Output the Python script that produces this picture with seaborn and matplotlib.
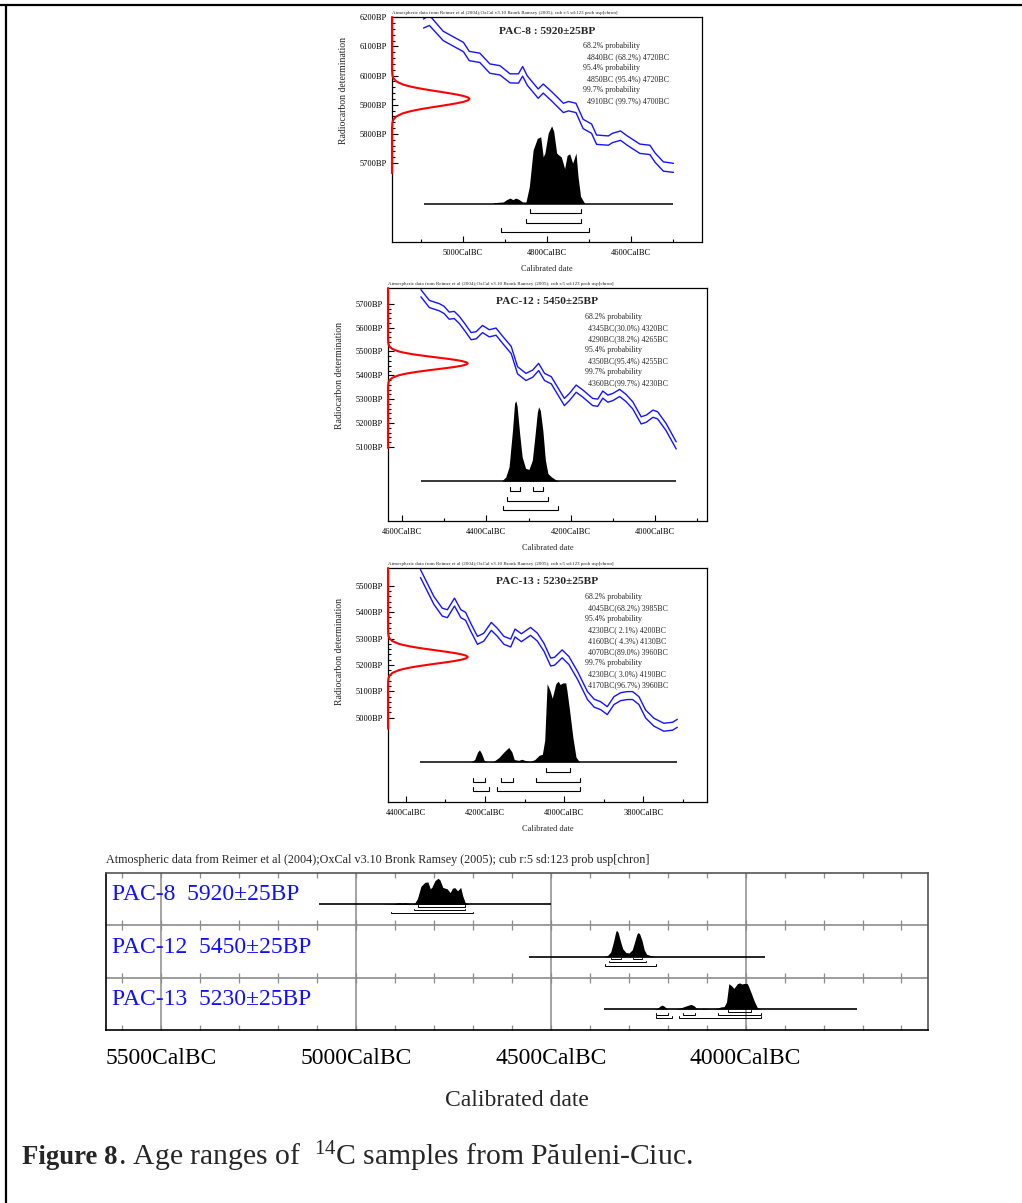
import numpy as np
import matplotlib
matplotlib.use("Agg")
import matplotlib.pyplot as plt
import matplotlib.transforms as mtransforms
from matplotlib.lines import Line2D
import seaborn as sns

W, H = 1022, 1203

# ── Data ───────────────────────────────────────────────────────────────────
SAMPLE_NAMES = ["PAC-8", "PAC-12", "PAC-13"]
SAMPLE_BP = [5920, 5450, 5230]
SAMPLE_ERR = [25, 25, 25]

# calibration curve (IntCal04, +/- 1 sigma envelope) as read for each panel
PAC8_CAL_YEAR = [5094, 5080, 5047, 4999, 4985, 4960, 4936, 4912, 4888, 4868, 4858, 4847, 4821, 4809,
                 4789, 4761, 4749, 4731, 4714, 4694, 4682, 4654, 4644, 4625, 4609, 4579, 4555, 4543,
                 4523, 4499]
PAC8_CAL_HI = [6194, 6207, 6152, 6114, 6083, 6077, 6040, 6034, 6006, 6006, 6031, 5999, 5954, 5971,
               5945, 5905, 5911, 5905, 5850, 5834, 5796, 5793, 5802, 5810, 5793, 5765, 5761, 5735,
               5704, 5699]
PAC8_CAL_LO = [6163, 6172, 6120, 6082, 6051, 6045, 6008, 6002, 5975, 5974, 5998, 5967, 5922, 5940,
               5913, 5873, 5879, 5873, 5818, 5802, 5764, 5761, 5770, 5778, 5761, 5733, 5729, 5703,
               5672, 5668]

PAC12_CAL_YEAR = [4555, 4535, 4511, 4500, 4488, 4476, 4464, 4452, 4436, 4424, 4409, 4393, 4377, 4361,
                  4341, 4326, 4306, 4290, 4276, 4262, 4246, 4227, 4215, 4203, 4187, 4171, 4148, 4136,
                  4124, 4112, 4100, 4084, 4069, 4053, 4033, 4021, 4005, 3994, 3974, 3950]
PAC12_CAL_HI = [5759, 5714, 5700, 5689, 5665, 5668, 5647, 5619, 5579, 5583, 5609, 5591, 5598, 5563,
                5521, 5436, 5408, 5422, 5450, 5408, 5394, 5338, 5303, 5324, 5359, 5338, 5303, 5300,
                5334, 5317, 5324, 5341, 5320, 5289, 5226, 5233, 5254, 5247, 5198, 5121]
PAC12_CAL_LO = [5729, 5684, 5670, 5659, 5635, 5638, 5617, 5589, 5549, 5553, 5579, 5561, 5568, 5533,
                5491, 5406, 5378, 5392, 5420, 5378, 5364, 5308, 5273, 5294, 5329, 5308, 5273, 5270,
                5304, 5287, 5294, 5311, 5290, 5259, 5196, 5203, 5224, 5217, 5168, 5091]

PAC13_CAL_YEAR = [4363, 4346, 4329, 4308, 4295, 4277, 4261, 4249, 4236, 4219, 4203, 4184, 4169, 4152,
                  4135, 4124, 4108, 4085, 4068, 4051, 4034, 4024, 4005, 3988, 3966, 3941, 3924, 3908,
                  3891, 3874, 3857, 3840, 3827, 3811, 3794, 3773, 3748, 3726, 3714]
PAC13_CAL_HI = [5561, 5510, 5459, 5415, 5409, 5453, 5409, 5399, 5358, 5308, 5320, 5361, 5339, 5308,
                5298, 5336, 5318, 5342, 5321, 5282, 5226, 5229, 5257, 5232, 5175, 5099, 5070, 5061,
                5042, 5080, 5095, 5099, 5099, 5080, 5029, 4998, 4979, 4983, 4994]
PAC13_CAL_LO = [5531, 5480, 5429, 5385, 5379, 5423, 5379, 5369, 5328, 5278, 5290, 5331, 5309, 5278,
                5268, 5306, 5288, 5312, 5291, 5252, 5196, 5199, 5227, 5202, 5145, 5069, 5040, 5031,
                5012, 5050, 5065, 5069, 5069, 5050, 4999, 4968, 4949, 4953, 4964]

# calibrated probability distributions (relative height)
PAC8_PDF_YEAR = [4928, 4904, 4896, 4888, 4881, 4875, 4868, 4858, 4850, 4842, 4833, 4823, 4815, 4809,
                 4805, 4797, 4789, 4784, 4777, 4771, 4766, 4758, 4752, 4746, 4739, 4731, 4726, 4720,
                 4710]
PAC8_PDF = [0.01, 0.02, 0.05, 0.07, 0.05, 0.07, 0.056, 0.02, 0.02, 0.22, 0.69, 0.84, 0.86, 0.60,
            0.65, 0.91, 1.0, 0.93, 0.65, 0.62, 0.60, 0.45, 0.62, 0.64, 0.52, 0.65, 0.34, 0.09, 0.0]

PAC12_PDF_YEAR = [4362, 4354, 4346, 4338, 4333, 4330, 4327, 4321, 4315, 4307, 4299, 4291, 4285, 4279,
                  4276, 4272, 4266, 4260, 4254, 4246, 4234, 4227]
PAC12_PDF = [0.01, 0.05, 0.18, 0.63, 0.97, 1.0, 0.93, 0.59, 0.30, 0.16, 0.145, 0.26, 0.55, 0.86,
             0.925, 0.88, 0.63, 0.26, 0.095, 0.054, 0.012, 0.0]

PAC13_PDF_YEAR = [4236, 4226, 4219, 4214, 4209, 4202, 4194, 4178, 4165, 4152, 4140, 4132, 4126, 4115,
                  4107, 4099, 4086, 4074, 4063, 4055, 4049, 4043, 4036, 4030, 4021, 4015, 4010, 4003,
                  3996, 3993, 3986, 3978, 3970, 3961]
PAC13_PDF = [0.0, 0.03, 0.12, 0.15, 0.11, 0.02, 0.0, 0.008, 0.054, 0.124, 0.18, 0.124, 0.03, 0.02,
             0.033, 0.02, 0.005, 0.03, 0.083, 0.095, 0.27, 0.97, 0.89, 0.79, 0.97, 1.0, 0.96, 0.98,
             0.98, 0.89, 0.63, 0.31, 0.06, 0.0]

# ranges: (from BC, to BC, percent)
PAC8_R68 = [(4840, 4720, 68.2)]
PAC8_R95 = [(4850, 4720, 95.4)]
PAC8_R99 = [(4910, 4700, 99.7)]
PAC12_R68 = [(4345, 4320, 30.0), (4290, 4265, 38.2)]
PAC12_R95 = [(4350, 4255, 95.4)]
PAC12_R99 = [(4360, 4230, 99.7)]
PAC13_R68 = [(4045, 3985, 68.2)]
PAC13_R95 = [(4230, 4200, 2.1), (4160, 4130, 4.3), (4070, 3960, 89.0)]
PAC13_R99 = [(4230, 4190, 3.0), (4170, 3960, 96.7)]

# radiocarbon measurement curve: offset from mean (BP) and relative height
RED_OFFSET = [-100, -80, -70, -60, -50, -45, -40, -35, -30, -25, -20, -15, -10, -5, 0,
              5, 10, 15, 20, 25, 30, 35, 40, 45, 50, 60, 70, 80, 100]
RED_DENS = [0.0, 0.006, 0.02, 0.056, 0.135, 0.198, 0.278, 0.375, 0.487, 0.607, 0.726, 0.835, 0.923,
            0.98, 1.0, 0.98, 0.923, 0.835, 0.726, 0.607, 0.487, 0.375, 0.278, 0.198, 0.135, 0.056,
            0.02, 0.006, 0.0]
RED_LOW = [5665, 5095, 4958]

PAC8_XTICKS, PAC8_XMINOR = [5000, 4800, 4600], [5100, 4900, 4700, 4500]
PAC12_XTICKS, PAC12_XMINOR = [4600, 4400, 4200, 4000], [4500, 4300, 4100, 3900]
PAC13_XTICKS, PAC13_XMINOR = [4400, 4200, 4000, 3800], [4300, 4100, 3900, 3700]
PAC8_YTICKS = [5700, 5800, 5900, 6000, 6100, 6200]
PAC12_YTICKS = [5100, 5200, 5300, 5400, 5500, 5600, 5700]
PAC13_YTICKS = [5000, 5100, 5200, 5300, 5400, 5500]

MULTI_XTICKS = [5500, 5000, 4500, 4000]
MULTI_MINOR = list(range(5600, 3599, -100))

HEADER = ("Atmospheric data from Reimer et al (2004);OxCal v3.10 Bronk Ramsey (2005); "
          "cub r:5 sd:123 prob usp[chron]")

# ── Style ──────────────────────────────────────────────────────────────────
BLUE = "#1414ff"
RED = "#ff0000"
GRID = "#8c8c8c"

sns.set_theme(style="ticks")
plt.rcParams["font.family"] = ["Liberation Serif", "DejaVu Serif"]
plt.rcParams["mathtext.fontset"] = "custom"
plt.rcParams["mathtext.rm"] = "Liberation Serif"
plt.rcParams["mathtext.bf"] = "Liberation Serif:bold"
plt.rcParams["mathtext.it"] = "Liberation Serif:italic"


def px_axes(fig, l, t, r, b):
    return fig.add_axes([l / W, 1 - b / H, (r - l) / W, (b - t) / H])


def brackets(ax, ranges_by_level, levels, tick, lw):
    for rngs, lev in zip(ranges_by_level, levels):
        for a, b, _ in rngs:
            ax.plot([a, a, b, b], [lev + tick, lev, lev, lev + tick], color="black", lw=lw,
                    solid_joinstyle="miter")


def prob_lines(s):
    out = []
    for head, rngs in (("68.2% probability", s["r68"]), ("95.4% probability", s["r95"]),
                       ("99.7% probability", s["r99"])):
        out.append((head, 0))
        for a, b, p in rngs:
            out.append((f"{a}BC{s['sep']}({p:4.1f}%) {b}BC", 1))
    return out


def calib_panel(fig, s, box, xlim, ylim):
    ax = px_axes(fig, *box)
    hpx = box[3] - box[1]
    sns.lineplot(x=s["cal_year"], y=s["cal_hi"], ax=ax, color=BLUE, lw=1.0)
    sns.lineplot(x=s["cal_year"], y=s["cal_lo"], ax=ax, color=BLUE, lw=1.0)
    ax.set_xlim(*xlim)
    ax.set_ylim(*ylim)

    # measured radiocarbon age along the y axis
    trans = mtransforms.blended_transform_factory(ax.transAxes, ax.transData)
    ry = [s["red_low"]] + [s["bp"] + o for o in RED_OFFSET] + [ylim[1]]
    rx = [0] + [0.25 * d for d in RED_DENS] + [0]
    ax.plot(rx, ry, color=RED, lw=1.5, transform=trans, clip_on=False, zorder=5)

    ax.set_xticks(s["xticks"])
    ax.set_xticklabels([f"{v}CalBC" for v in s["xticks"]])
    ax.set_xticks(s["xminor"], minor=True)
    ax.set_yticks(s["yticks"])
    ax.set_yticklabels([f"{v}BP" for v in s["yticks"]])
    ax.set_yticks(np.arange(min(s["yticks"]), max(s["yticks"]) + 1, 20), minor=True)
    ax.tick_params(which="both", direction="in", colors="black", width=0.8, labelsize=6,
                   top=False, right=False)
    ax.tick_params(which="major", length=4)
    ax.tick_params(which="minor", length=2.5)
    ax.tick_params(axis="x", pad=5)
    ax.tick_params(axis="y", pad=3.5)
    for sp in ax.spines.values():
        sp.set_color("black")
        sp.set_linewidth(0.9)
    ax.set_xlabel("")
    ax.set_ylabel("")
    ax.text(0.5, -27 / hpx, "Calibrated date", transform=ax.transAxes, ha="center", va="center",
            fontsize=6)
    ax.text(-49 / (box[2] - box[0]), np.mean(s["yticks"]), "Radiocarbon determination",
            transform=trans, rotation=90, ha="center", va="center", fontsize=7)
    ax.text(0, 1 + 4.3 / hpx, HEADER, transform=ax.transAxes, ha="left", va="center", fontsize=3.6)
    ax.text(0.5, 1 - 14 / hpx, f"{s['name']} : {s['bp']}±{s['err']}BP", transform=ax.transAxes,
            ha="center", va="center", fontsize=8.2, fontweight="bold")
    for i, (txt, ind) in enumerate(prob_lines(s)):
        ax.text(0.617 + 0.011 * ind, 1 - (29 + 11 * i) / hpx, txt, transform=ax.transAxes,
                ha="left", va="center", fontsize=5.7)

    # calibrated distribution on its own scale, below the curve
    ax2 = ax.twinx()
    ax2.set_ylim(-0.496, 2.403)
    ax2.axis("off")
    ax2.fill_between(s["pdf_year"], 0, s["pdf"], color="black", lw=0)
    ax2.hlines(0, min(s["cal_year"]), max(s["cal_year"]), color="black", lw=1.1)
    brackets(ax2, [s["r68"], s["r95"], s["r99"]], [-0.126, -0.248, -0.365], 0.05, 0.8)
    ax2.set_xlim(*xlim)
    return ax


def multi_panel(fig, samples):
    ax = px_axes(fig, 106, 873, 928, 1030)
    ax.set_xlim(5641, 3532)
    ax.set_ylim(0, 3)
    for v in MULTI_XTICKS:
        ax.axvline(v, color=GRID, lw=1.1, zorder=1)
    for yb in (1, 2):
        ax.axhline(yb, color=GRID, lw=1.2, zorder=1)
    for yb in (0, 1, 2, 3):
        ax.plot(MULTI_MINOR, [yb] * len(MULTI_MINOR), ls="none", marker="|", ms=7.5, mew=0.9,
                color=GRID, zorder=1)
    trans = mtransforms.blended_transform_factory(ax.transAxes, ax.transData)
    for i, s in enumerate(samples):
        base = 2 - i + 0.40
        ax.fill_between(s["pdf_year"], base, [base + 0.5 * d for d in s["pdf"]], color="black",
                        lw=0, zorder=3)
        ax.hlines(base, min(s["cal_year"]), max(s["cal_year"]), color="black", lw=1.2, zorder=3)
        brackets(ax, [s["r68"], s["r95"], s["r99"]],
                  [base - 0.05, base - 0.11, base - 0.17], 0.03, 0.7)
        ax.text(6 / 822, 2 - i + 0.58, f"{s['name']}  {s['bp']}±{s['err']}BP", transform=trans,
                ha="left", va="center", fontsize=17, color="#1010ff")
    ax.set_xticks(MULTI_XTICKS)
    ax.set_xticklabels([f"{v}CalBC" for v in MULTI_XTICKS])
    ax.set_yticks([])
    ax.tick_params(axis="x", length=0, labelsize=17, pad=13, colors="black")
    for name, sp in ax.spines.items():
        sp.set_linewidth(1.2)
        sp.set_color("black" if name in ("left", "bottom") else "#555555")
    ax.text(0, 1 + 13 / 157, HEADER, transform=ax.transAxes, ha="left", va="center",
            fontsize=8.7)
    return ax


def main():
    fig = plt.figure(figsize=(W / 100, H / 100), dpi=100)
    fig.patch.set_facecolor("white")

    samples = []
    cal = [(PAC8_CAL_YEAR, PAC8_CAL_HI, PAC8_CAL_LO), (PAC12_CAL_YEAR, PAC12_CAL_HI, PAC12_CAL_LO),
           (PAC13_CAL_YEAR, PAC13_CAL_HI, PAC13_CAL_LO)]
    pdf = [(PAC8_PDF_YEAR, PAC8_PDF), (PAC12_PDF_YEAR, PAC12_PDF), (PAC13_PDF_YEAR, PAC13_PDF)]
    rng = [(PAC8_R68, PAC8_R95, PAC8_R99), (PAC12_R68, PAC12_R95, PAC12_R99),
           (PAC13_R68, PAC13_R95, PAC13_R99)]
    ticks = [(PAC8_XTICKS, PAC8_XMINOR, PAC8_YTICKS), (PAC12_XTICKS, PAC12_XMINOR, PAC12_YTICKS),
             (PAC13_XTICKS, PAC13_XMINOR, PAC13_YTICKS)]
    for i in range(3):
        samples.append(dict(
            name=SAMPLE_NAMES[i], bp=SAMPLE_BP[i], err=SAMPLE_ERR[i],
            cal_year=cal[i][0], cal_hi=cal[i][1], cal_lo=cal[i][2],
            pdf_year=pdf[i][0], pdf=pdf[i][1],
            r68=rng[i][0], r95=rng[i][1], r99=rng[i][2],
            xticks=ticks[i][0], xminor=ticks[i][1], yticks=ticks[i][2],
            red_low=RED_LOW[i], sep=" " if i == 0 else "",
        ))

    boxes = [(392, 17, 702, 242), (388, 288, 707, 521), (388, 568, 707, 802)]
    xlims = [(5169, 4431), (4633, 3877), (4445, 3639)]
    ylims = [(5429, 6201), (4789, 5766), (4681, 5567)]
    for s, b, xl, yl in zip(samples, boxes, xlims, ylims):
        calib_panel(fig, s, b, xl, yl)

    multi_panel(fig, samples)

    fig.text(517 / W, 1 - 1100 / H, "Calibrated date", ha="center", va="center", fontsize=17)
    fig.text(22 / W, 1 - 1157 / H, "Figure 8", ha="left", va="center", fontsize=19.3,
             fontweight="bold")
    fig.text(118 / W, 1 - 1157 / H, ". Age ranges of  $^{14}$C samples from Păuleni-Ciuc.",
             ha="left", va="center", fontsize=21.3)

    # page frame
    fig.add_artist(Line2D([0, 1], [1 - 5 / H, 1 - 5 / H], transform=fig.transFigure,
                          color="black", lw=1.6))
    fig.add_artist(Line2D([6 / W, 6 / W], [0, 1 - 5 / H], transform=fig.transFigure,
                          color="black", lw=1.6))

    fig.savefig("out.png", dpi=100, facecolor="white")
    plt.close(fig)


if __name__ == "__main__":
    main()
